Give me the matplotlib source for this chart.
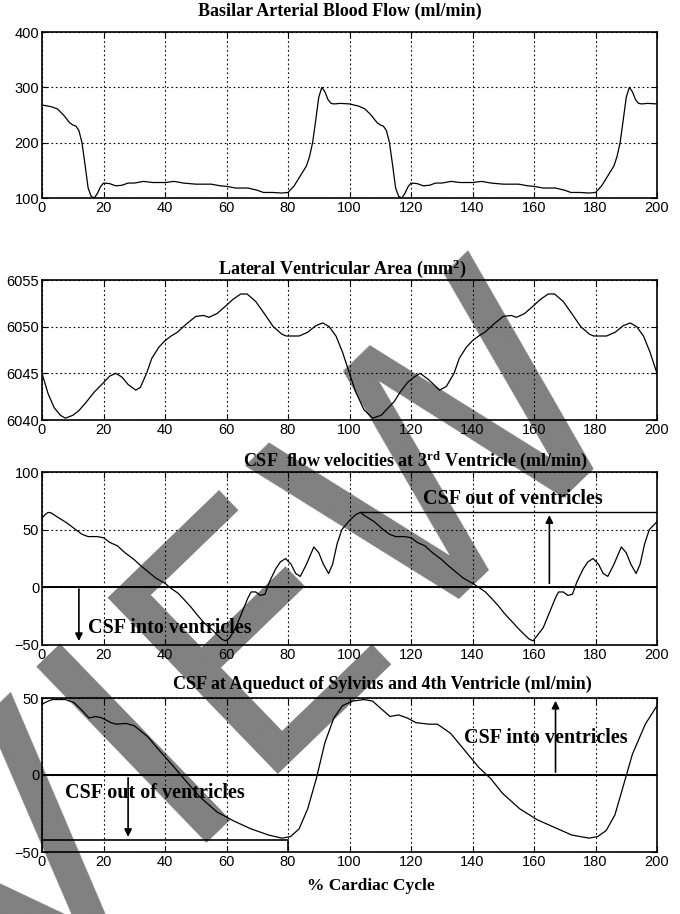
import matplotlib
matplotlib.use("Agg")
import matplotlib.pyplot as plt

# ---- data (% cardiac cycle, two cycles) ----
flow_x = [0, 3, 5, 7, 9, 10, 11, 12, 13, 14, 15, 16, 17, 18, 19, 20, 22, 24, 26, 28, 30,
          33, 36, 40, 43, 46, 50, 55, 58, 60, 63, 67, 70, 72, 75, 78, 80, 82, 84, 86, 87,
          88, 89, 90, 91, 92, 93, 94, 95, 97, 100,
          103, 105, 107, 109, 110, 111, 112, 113, 114, 115, 116, 117, 118, 119, 120, 122,
          124, 126, 128, 130, 133, 136, 140, 143, 146, 150, 155, 158, 160, 163, 167, 170,
          172, 175, 178, 180, 182, 184, 186, 187, 188, 189, 190, 191, 192, 193, 194, 195,
          197, 200]
flow_y = [268, 265, 261, 250, 236, 232, 230, 222, 200, 160, 118, 103, 100, 108, 120, 127,
          126, 122, 123, 127, 127, 130, 128, 128, 130, 127, 125, 125, 122, 121, 118, 118,
          114, 110, 110, 109, 110, 122, 140, 158, 175, 200, 240, 282, 300, 292, 278, 271,
          270, 271, 270,
          266, 261, 250, 236, 232, 230, 222, 200, 160, 118, 103, 100, 108, 120, 127, 126,
          122, 123, 127, 127, 130, 128, 128, 130, 127, 125, 125, 122, 121, 118, 118, 114,
          110, 110, 109, 110, 122, 140, 158, 175, 200, 240, 282, 300, 292, 278, 271, 270,
          271, 270]

area_x = [0, 2, 4, 6, 7.6, 10, 12, 14.6, 17, 20, 22, 24, 26, 28, 30.5, 32, 34, 35.7, 38,
          40, 42, 44, 47, 50, 52.6, 54.3, 56.9, 59.7, 62, 64.6, 66.7, 69.5, 72.3, 75.2,
          78, 79.4, 83.6, 86.4, 89, 91.3, 93.4, 95.6, 97.7, 99.8, 101.9, 104.7, 107.5,
          110.3, 112, 114.6, 116.5, 118.8, 121, 123, 125.8, 129.3, 131.5, 134, 135.7,
          138, 140, 142, 144, 147, 150, 152.6, 154.3, 156.9, 159.7, 162, 164.6, 166.7,
          169.5, 172.3, 175.2, 178, 179.4, 183.6, 186.4, 189, 191.3, 193.4, 195.6, 197.7,
          200]
area_y = [6045.0, 6042.8, 6041.3, 6040.5, 6040.2, 6040.5, 6041.0, 6042.0, 6043.0, 6044.0,
          6044.7, 6045.0, 6044.6, 6043.8, 6043.2, 6043.5, 6045.0, 6046.6, 6047.8, 6048.5,
          6049.0, 6049.4, 6050.3, 6051.1, 6051.2, 6051.0, 6051.4, 6052.2, 6052.9, 6053.5,
          6053.5, 6052.7, 6051.4, 6050.0, 6049.2, 6049.0, 6049.0, 6049.4, 6050.1, 6050.4,
          6050.0, 6049.0, 6047.3, 6045.2, 6043.1, 6041.1, 6040.2, 6040.5, 6041.1, 6042.0,
          6043.0, 6044.0, 6044.6, 6045.0, 6044.3, 6043.2, 6043.6, 6045.0, 6046.6, 6047.8,
          6048.5, 6049.0, 6049.4, 6050.3, 6051.1, 6051.2, 6051.0, 6051.4, 6052.2, 6052.9,
          6053.5, 6053.5, 6052.7, 6051.4, 6050.0, 6049.2, 6049.0, 6049.0, 6049.4, 6050.1,
          6050.4, 6050.0, 6049.0, 6047.3, 6045.0]

v3_x = [0, 1, 2, 3, 5, 8, 11, 13, 15, 18, 20, 22, 24.5, 27, 30, 32, 34.3, 37, 40, 42,
        44.2, 46, 48.4, 50.5, 52.6, 55, 56.9, 58.5, 59.7, 61, 63, 65, 67, 68, 69.5, 71,
        72.5, 74, 76, 77.5, 79.2, 81, 82.5, 84, 86, 88.4, 90, 91.5, 93.2, 94.5, 96, 97.5,
        100, 102, 103.5, 105, 108, 111, 113, 115, 118, 120, 122, 124.5, 127, 130, 132,
        134.3, 137, 140, 142, 144.2, 146, 148.4, 150.5, 152.6, 155, 156.9, 158.5, 159.7,
        161, 163, 165, 167, 168, 169.5, 171, 172.5, 174, 176, 177.5, 179.2, 181, 182.5,
        184, 186, 188.4, 190, 191.5, 193.2, 194.5, 196, 197.5, 200]
v3_y = [60, 63, 65, 64.5, 61, 56, 50, 46, 44, 44, 43, 39, 36, 30, 24, 19, 14, 8, 3.5, -1,
        -5, -10, -17, -24, -30.5, -36, -41, -45, -46.4, -44, -35, -22, -9, -4, -4, -7,
        -6, 5, 16, 22, 25, 20, 12, 9.5, 20, 35, 30, 20, 12, 20, 38, 50,
        58, 63, 65, 62, 57, 50, 46, 44, 44, 43, 39, 36, 30, 24, 19, 14, 8, 3.5, 0, -4,
        -9, -16, -23, -29, -36, -41, -45, -46.4, -42, -35, -22, -9, -4, -4, -7, -6, 5,
        16, 22, 25, 20, 12, 9.5, 20, 35, 30, 20, 12, 20, 38, 50, 57]

v4_x = [0, 2, 3.4, 7.6, 10.4, 12.5, 15.3, 17.5, 19.6, 22.4, 24.2, 27.3, 30, 34.3, 38.6,
        42.8, 47, 51.2, 56.9, 62.5, 68, 73.7, 78, 80.8, 83.6, 86.4, 89.2, 92, 94.9, 97.7,
        101, 104.7, 107.5, 110.3, 113.2, 116, 118.8, 121.6, 125.8, 128.6, 132.9, 138.5,
        142, 146, 149.8, 155.4, 161, 166.6, 172.3, 177.9, 180.7, 183.5, 186.3, 189.2, 192,
        196.2, 200]
v4_y = [46, 48, 49, 49, 47, 43, 37, 38, 37, 34, 33, 33.5, 32, 25, 15, 5.5, -4.4, -14, -24,
        -30, -35, -39, -41, -40, -35, -22, -2.4, 21, 37, 45, 48, 49, 48, 43, 38, 39, 37,
        34, 33, 33, 27, 13.5, 5, -2.5, -12, -22, -29, -34, -39, -41, -40, -36, -26, -6,
        13.5, 33, 45]

x_ticks = [0, 20, 40, 60, 80, 100, 120, 140, 160, 180, 200]
flow_ticks = [100, 200, 300, 400]
area_ticks = [6040, 6045, 6050, 6055]
v3_ticks = [-50, 0, 50, 100]
v4_ticks = [-50, 0, 50]

plt.rcParams['mathtext.fontset'] = 'custom'
plt.rcParams['mathtext.rm'] = 'Liberation Serif:bold'
plt.rcParams['mathtext.it'] = 'Liberation Serif:bold'
plt.rcParams['mathtext.bf'] = 'Liberation Serif:bold'

serif = dict(family='Liberation Serif', weight='bold')
tickfont = ['Liberation Sans Narrow', 'Liberation Sans']

fig = plt.figure(figsize=(6.8, 9.14), dpi=100)

# grey PREVIEW watermark behind everything
fig.text(0.037, 0.0624, 'PREVIEW', rotation=44, rotation_mode='anchor',
         ha='center', va='center', fontsize=242, color='#808080',
         family='DejaVu Sans', zorder=-1)

W = 615 / 680
L = 42 / 680
boxes = [(1 - 198 / 914, 166 / 914), (1 - 420 / 914, 140 / 914),
         (1 - 645 / 914, 173 / 914), (1 - 852 / 914, 154 / 914)]
axs = [fig.add_axes([L, b, W, h]) for b, h in boxes]

def style(ax, yticks):
    ax.set_facecolor('none')
    ax.set_xlim(0, 200)
    ax.set_ylim(yticks[0], yticks[-1])
    ax.set_xticks(x_ticks)
    ax.set_yticks(yticks)
    ax.grid(True, color='k', linestyle=(0, (1.5, 2.5)), linewidth=0.8)
    ax.tick_params(direction='in', length=4, width=0.8, top=True, right=True,
                   labelsize=10.5, pad=2)
    for lab in ax.get_xticklabels() + ax.get_yticklabels():
        lab.set_family(tickfont)
    for s in ax.spines.values():
        s.set_linewidth(1.2)

# panel 1
ax = axs[0]
ax.plot(flow_x, flow_y, color='k', lw=0.9)
style(ax, flow_ticks)
ax.text(0.485, 1.075, 'Basilar Arterial Blood Flow (ml/min)', transform=ax.transAxes,
        ha='center', va='bottom', fontsize=13, **serif)

# panel 2
ax = axs[1]
ax.plot(area_x, area_y, color='k', lw=0.9)
style(ax, area_ticks)
ax.text(0.488, 1.0, r'Lateral Ventricular Area (mm$^{2}$)', transform=ax.transAxes,
        ha='center', va='bottom', fontsize=13, **serif)

# panel 3
ax = axs[2]
ax.plot(v3_x, v3_y, color='k', lw=0.9)
ax.axhline(0, color='k', lw=1.4)
ax.plot([103.5, 200], [65, 65], color='k', lw=1.0)
ax.annotate('', xy=(165, 65), xytext=(165, 1),
            arrowprops=dict(arrowstyle='-|>', color='k', lw=1.2, mutation_scale=11))
ax.annotate('', xy=(12, -49), xytext=(12, 1),
            arrowprops=dict(arrowstyle='-|>', color='k', lw=1.2, mutation_scale=11))
ax.text(153, 77, 'CSF out of ventricles', ha='center', va='center', fontsize=14.5, **serif)
ax.text(15, -35, 'CSF into ventricles', ha='left', va='center', fontsize=14.5, **serif)
style(ax, v3_ticks)
ax.text(0.608, 1.0, r'CSF  flow velocities at 3$^{\mathrm{rd}}$ Ventricle (ml/min)',
        transform=ax.transAxes, ha='center', va='bottom', fontsize=13, **serif)

# panel 4
ax = axs[3]
ax.plot(v4_x, v4_y, color='k', lw=0.9)
ax.axhline(0, color='k', lw=1.4)
ax.plot([0, 80, 80], [-42, -42, -50], color='k', lw=1.2)
ax.annotate('', xy=(28, -42), xytext=(28, 0),
            arrowprops=dict(arrowstyle='-|>', color='k', lw=1.2, mutation_scale=11))
ax.annotate('', xy=(167, 50), xytext=(167, 0),
            arrowprops=dict(arrowstyle='-|>', color='k', lw=1.2, mutation_scale=11))
ax.text(164, 24, 'CSF into ventricles', ha='center', va='center', fontsize=14.5, **serif)
ax.text(7.6, -11.4, 'CSF out of ventricles', ha='left', va='center', fontsize=14.5, **serif)
style(ax, v4_ticks)
ax.text(0.553, 1.03, 'CSF at Aqueduct of Sylvius and 4th Ventricle (ml/min)',
        transform=ax.transAxes, ha='center', va='bottom', fontsize=13, **serif)
ax.set_xlabel('% Cardiac Cycle', fontsize=12.5, labelpad=4, **serif)
ax.xaxis.set_label_coords(0.534, -0.17)

fig.savefig('out.png', dpi=100)
